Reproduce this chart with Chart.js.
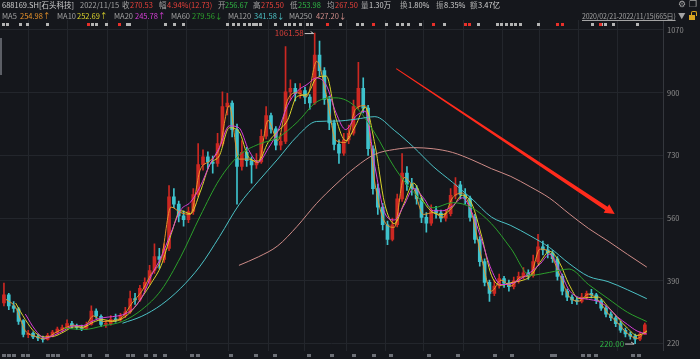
<!DOCTYPE html>
<html>
<head>
<meta charset="utf-8">
<script src="https://cdn.jsdelivr.net/npm/chart.js@4.4.1/dist/chart.umd.min.js"></script>
<style>
  body { margin: 0; background: #15171c; }
  #wrap { position: relative; width: 700px; height: 359px; overflow: hidden; background: #15171c;
          font-family: "Noto Sans CJK SC", "Noto Sans", sans-serif; font-size: 7.5px; }
  #chart { position: absolute; left: 0; top: 0; }
  .t { position: absolute; white-space: nowrap; line-height: 10px; color: #a4a4a4; }
  .r1 { top: 0px; }
  .r2 { top: 11px; }
  .red { color: #e8413b; }
  .grn { color: #2fb344; }
  .wht { color: #cfcfcf; }
  #lock { position: absolute; left: 689px; top: 15px; width: 6px; height: 5px; background: #d9a520; }
  #lock:before { content: ""; position: absolute; left: 2px; top: -4px; width: 4px; height: 4px;
                 border: 1px solid #d9a520; border-bottom: none; border-radius: 2px 2px 0 0; }
  #scroll { position: absolute; left: 0; top: 38px; width: 2px; height: 37px; background: #5c5f66; }
</style>
</head>
<body>
<div id="wrap">
  <canvas id="chart" width="700" height="359"></canvas>
  <div id="scroll"></div>

  <span class="t r1 wht" style="left:2px">688169.SH[石头科技]</span>
  <span class="t r1" style="left:80px">2022/11/15</span>
  <span class="t r1" style="left:122px">收</span><span class="t r1 red" style="left:130px">270.53</span>
  <span class="t r1" style="left:159px">幅</span><span class="t r1 red" style="left:167px">4.94%(12.73)</span>
  <span class="t r1" style="left:218px">开</span><span class="t r1 grn" style="left:225px">256.67</span>
  <span class="t r1" style="left:253px">高</span><span class="t r1 red" style="left:261px">275.50</span>
  <span class="t r1" style="left:290px">低</span><span class="t r1 grn" style="left:298px">253.98</span>
  <span class="t r1" style="left:327px">均</span><span class="t r1 red" style="left:335px">267.50</span>
  <span class="t r1" style="left:361px">量</span><span class="t r1 wht" style="left:369px">1.30万</span>
  <span class="t r1" style="left:400px">换</span><span class="t r1 wht" style="left:408px">1.80%</span>
  <span class="t r1" style="left:436px">振</span><span class="t r1 wht" style="left:444px">8.35%</span>
  <span class="t r1" style="left:470px">额</span><span class="t r1 wht" style="left:478px">3.47亿</span>
  <span class="t r1" style="left:678px;font-size:9px;top:-1px">⚙</span>
  <span class="t r1" style="left:689px;font-size:9px;top:-1px">❐</span>

  <span class="t r2" style="left:2px">MA5</span><span class="t r2" style="left:20px;color:#e8922a">254.98↑</span>
  <span class="t r2" style="left:57px">MA10</span><span class="t r2" style="left:77px;color:#dcd42c">252.69↑</span>
  <span class="t r2" style="left:114px">MA20</span><span class="t r2" style="left:135px;color:#d83fd8">245.78↑</span>
  <span class="t r2" style="left:171px">MA60</span><span class="t r2" style="left:192px;color:#2ca02c">279.56↓</span>
  <span class="t r2" style="left:228px">MA120</span><span class="t r2" style="left:254px;color:#4cc2c6">341.58↓</span>
  <span class="t r2" style="left:289px">MA250</span><span class="t r2" style="left:316px;color:#cf8c88">427.20↓</span>
  <span class="t r2" style="left:582px;font-size:7px;letter-spacing:-0.2px;text-decoration:underline">2020/02/21-2022/11/15(665日)</span>
  <span class="t r2" style="left:678px">▼</span>
  <div id="lock"></div>
</div>

<script>
// one candle = 5 trading days, 665 days in all
const daysPerCandle = 5;
const opens = [330,352,322,314,282,244,248,239,235,231,242,250,259,263,274,268,264,261,272,308,
  294,272,274,286,284,296,306,342,338,370,386,418,456,448,478,618,598,566,556,578,
  624,705,726,712,708,762,862,872,800,700,738,716,704,712,782,838,802,758,768,902,
  912,898,906,888,872,1002,960,882,818,760,736,772,790,862,912,858,748,640,590,542,
  502,542,612,682,652,640,612,562,546,582,574,560,572,622,650,624,614,562,502,442,
  386,356,376,396,384,374,390,402,412,404,442,482,474,466,450,402,362,346,338,334,
  346,356,352,336,316,300,290,274,256,246,240,232,246];
const highs = [384,356,334,318,285,256,252,246,240,248,256,265,270,284,280,273,270,278,322,314,
  298,282,296,300,302,318,362,356,378,398,432,490,478,490,648,640,606,580,590,640,
  762,745,740,728,790,902,898,878,815,770,752,726,735,800,862,845,808,790,1025,935,
  925,925,915,895,1061.58,1040,968,890,826,772,790,812,880,982,940,866,756,652,600,552,
  560,625,735,700,668,648,618,575,596,592,582,584,640,670,660,640,620,570,510,450,
  392,392,408,402,392,400,414,426,420,460,516,498,488,472,456,408,368,352,346,356,
  362,367,356,340,322,306,294,280,262,252,246,252,275.5];
const lows = [322,312,305,272,238,236,233,228,224,229,238,246,252,260,262,258,255,258,270,288,
  266,264,270,278,280,290,302,326,334,360,380,410,424,440,472,588,550,538,548,570,
  618,690,695,682,700,755,840,780,598,690,700,655,695,708,775,790,745,745,762,880,
  878,885,870,855,868,945,868,800,745,708,730,762,785,855,845,730,625,570,528,488,
  498,536,605,635,622,598,548,522,540,560,550,552,566,612,612,598,552,492,430,376,
  334,350,370,372,362,368,384,396,394,400,436,460,452,440,392,352,336,328,326,330,
  340,344,328,310,292,282,266,250,238,232,220,228,244];
const closes = [352,322,315,280,245,248,238,235,231,242,251,259,263,274,268,264,261,270,308,294,
  272,274,286,284,296,306,342,338,370,386,418,456,448,476,618,598,566,556,578,624,
  705,726,712,708,762,862,872,800,700,738,716,704,712,782,838,802,758,768,902,912,
  898,906,888,872,1002,960,882,818,760,736,772,790,862,912,858,748,640,590,542,502,
  542,612,682,652,640,612,562,546,582,574,560,572,622,650,624,614,562,502,442,386,
  356,376,396,384,374,390,402,412,404,442,482,474,466,450,402,362,346,338,334,346,
  356,352,336,316,300,290,274,256,246,240,232,246,270.53];

// short averages read every 10 days (day 4, 14, 24 ...)
const ma5 = [340,318,255,240,233,248,261,270,262,295,280,282,292,330,362,410,450,590,575,570,
  690,715,750,865,720,720,710,825,770,880,900,890,985,895,770,765,855,865,655,550,
  535,670,640,570,575,562,615,628,570,450,362,392,376,400,405,476,466,408,348,335,
  354,338,302,276,248,234,254.98];
const ma10 = [null,330,285,250,238,240,252,265,265,278,285,280,288,310,345,385,432,515,580,572,
  630,705,730,805,795,725,715,765,795,825,890,895,940,945,830,770,810,860,760,600,
  545,600,655,605,575,570,590,622,598,510,405,378,385,390,402,440,470,440,380,342,
  345,346,320,290,262,242,252.69];
const ma20 = [null,null,300,258,235,243,256,268,269,282,290,293,298,312,345,405,455,520,582,603,
  645,705,752,810,805,745,712,748,795,865,904,922,940,920,845,800,835,850,700,575,
  555,595,640,615,580,580,593,615,575,500,420,380,382,395,413,435,462,420,365,345,
  340,334,318,292,272,254,245.78];
// long averages read every 20 days (day 4, 24, 44 ...)
const ma60 = [null,null,null,262,258,268,280,312,365,455,565,665,730,760,778,820,875,886,862,790,
  698,630,588,602,588,545,478,405,413,422,380,342,305,279.56];
const ma120 = [null,null,null,null,null,null,275,294,325,370,430,510,596,660,720,782,822,823,828,835,
  798,752,700,657,612,563,540,512,480,437,402,388,366,341.58];
const ma250 = [null,null,null,null,null,null,null,null,null,null,null,null,432,455,485,538,600,652,698,733,
  746,751,748,738,718,694,673,645,614,572,532,498,462,427.2];

const priceTicks = [220, 390, 560, 730, 900, 1070];
const monthLines = [27, 67, 109, 150, 190, 233, 274, 312, 355, 395, 434, 475, 515, 554, 594, 634];

// info-mine markers above the candles (day index)
const noteDays = [1,5,19,26,46,93,97,107,129,131,168,177,186,232,238,243,249,254,258,262,266,281,
  291,296,301,307,314,318,348,366,371,395,407,412,418,430,455,490,510,514,519,524,528,533,552,608,617,621,629,654];
const alertDays = [89,121,335,382,444,477,481,572,577,616];
const footDays = [2,7,12,22,27,47,53,58,83,91,108,130,135,148,158,168,196,202,236,262,281,
  316,340,362,383,401,440,470,508,525,566,569,598,604,612,650,656];

const trendFrom = { day: 406, price: 965 };
const trendTo = { day: 631, price: 571 };

const UP = '#cc2822', DOWN = '#3ec2cc';
const candleDay = (j) => j * daysPerCandle + 2;
const candleColor = (j) => closes[j] >= opens[j] ? UP : DOWN;

function maLine(values, step, label, color) {
  const pts = [];
  values.forEach((v, k) => { if (v != null) pts.push({ x: k * step + 4, y: v }); });
  return { type: 'line', label, data: pts, borderColor: color, borderWidth: 1, pointRadius: 0,
           cubicInterpolationMode: 'monotone', order: 1 };
}

function drawTrendArrow(ctx, x0, y0, x1, y1) {
  const dx = x1 - x0, dy = y1 - y0, len = Math.hypot(dx, dy);
  const ux = dx / len, uy = dy / len, nx = -uy, ny = ux;
  const headLen = 10, headW = 5, neckW = 2.1, tailW = 0.5;
  const bx = x1 - ux * headLen, by = y1 - uy * headLen;
  ctx.beginPath();
  ctx.moveTo(x0 + nx * tailW, y0 + ny * tailW);
  ctx.lineTo(bx + nx * neckW, by + ny * neckW);
  ctx.lineTo(bx + nx * headW, by + ny * headW);
  ctx.lineTo(x1, y1);
  ctx.lineTo(bx - nx * headW, by - ny * headW);
  ctx.lineTo(bx - nx * neckW, by - ny * neckW);
  ctx.lineTo(x0 - nx * tailW, y0 - ny * tailW);
  ctx.closePath();
  ctx.fill();
}

function extremeLabel(ctx, px, py, text, color) {
  ctx.fillStyle = color;
  ctx.textAlign = 'right';
  ctx.textBaseline = 'middle';
  ctx.fillText(text, px - 11, py);
  ctx.strokeStyle = '#c8c8c8';
  ctx.lineWidth = 1;
  ctx.beginPath();
  ctx.moveTo(px - 10, py + 0.5);
  ctx.lineTo(px - 1, py + 0.5);
  ctx.moveTo(px - 4, py - 1.5);
  ctx.lineTo(px - 1, py + 0.5);
  ctx.stroke();
}

const overlay = {
  id: 'overlay',
  afterDatasetsDraw(chart) {
    const { ctx, scales: { x, y } } = chart;
    ctx.save();
    ctx.font = '8px "Noto Sans CJK SC"';

    noteDays.forEach(d => { ctx.fillStyle = '#b4b4b4'; ctx.fillRect(Math.round(x.getPixelForValue(d)) - 1, 23, 3, 3); });
    alertDays.forEach(d => { ctx.fillStyle = '#e8302a'; ctx.fillRect(Math.round(x.getPixelForValue(d)) - 1, 23, 3, 3); });
    footDays.forEach(d => { ctx.fillStyle = '#6c6f76'; ctx.fillRect(Math.round(x.getPixelForValue(d)) - 2, 354, 4, 3); });

    const hi = highs.indexOf(Math.max(...highs));
    const lo = lows.indexOf(Math.min(...lows));
    extremeLabel(ctx, x.getPixelForValue(candleDay(hi)), y.getPixelForValue(highs[hi]), highs[hi].toFixed(2), '#d8403a');
    extremeLabel(ctx, x.getPixelForValue(candleDay(lo)), y.getPixelForValue(lows[lo]), lows[lo].toFixed(2), '#2fb344');

    ctx.fillStyle = '#ff2b1c';
    drawTrendArrow(ctx, x.getPixelForValue(trendFrom.day), y.getPixelForValue(trendFrom.price),
                   x.getPixelForValue(trendTo.day), y.getPixelForValue(trendTo.price));
    ctx.restore();
  }
};

const wicks = {
  type: 'bar', label: 'wick', order: 10, grouped: false, barThickness: 1, minBarLength: 1,
  data: closes.map((c, j) => ({ x: candleDay(j), y: [lows[j], highs[j]] })),
  backgroundColor: (c) => candleColor(c.dataIndex)
};
const bodies = {
  type: 'bar', label: 'body', order: 9, grouped: false, barThickness: 3, minBarLength: 1,
  data: closes.map((c, j) => ({ x: candleDay(j), y: [opens[j], c] })),
  backgroundColor: (c) => candleColor(c.dataIndex)
};

new Chart(document.getElementById('chart'), {
  type: 'bar',
  data: {
    datasets: [
      wicks, bodies,
      maLine(ma250, 20, 'MA250', '#cf8c88'),
      maLine(ma120, 20, 'MA120', '#4cc2c6'),
      maLine(ma60, 20, 'MA60', '#2ca02c'),
      maLine(ma20, 10, 'MA20', '#d83fd8'),
      maLine(ma10, 10, 'MA10', '#dcd42c'),
      maLine(ma5, 10, 'MA5', '#e8922a')
    ]
  },
  options: {
    responsive: false,
    animation: false,
    devicePixelRatio: 1,
    events: [],
    layout: { padding: { top: 20, bottom: 7, left: 0, right: 0 } },
    plugins: { legend: { display: false }, tooltip: { enabled: false } },
    scales: {
      x: {
        type: 'linear', min: -2.06, max: 680.7, offset: false,
        afterBuildTicks: (s) => { s.ticks = monthLines.map(v => ({ value: v })); },
        ticks: { display: false },
        grid: { color: '#23262c', drawTicks: false, offset: false },
        border: { display: false }
      },
      y: {
        position: 'right', min: 201.2, max: 1097,
        afterBuildTicks: (s) => { s.ticks = priceTicks.map(v => ({ value: v })); },
        afterFit: (s) => { s.width = 37; },
        ticks: { color: '#8d8d8d', padding: 4, font: { family: 'Noto Sans CJK SC', size: 7.5 },
                 callback: (v) => String(v) },
        grid: { color: '#23262c', drawTicks: false },
        border: { display: true, color: '#34373d' }
      }
    }
  },
  plugins: [overlay]
});
</script>
</body>
</html>
